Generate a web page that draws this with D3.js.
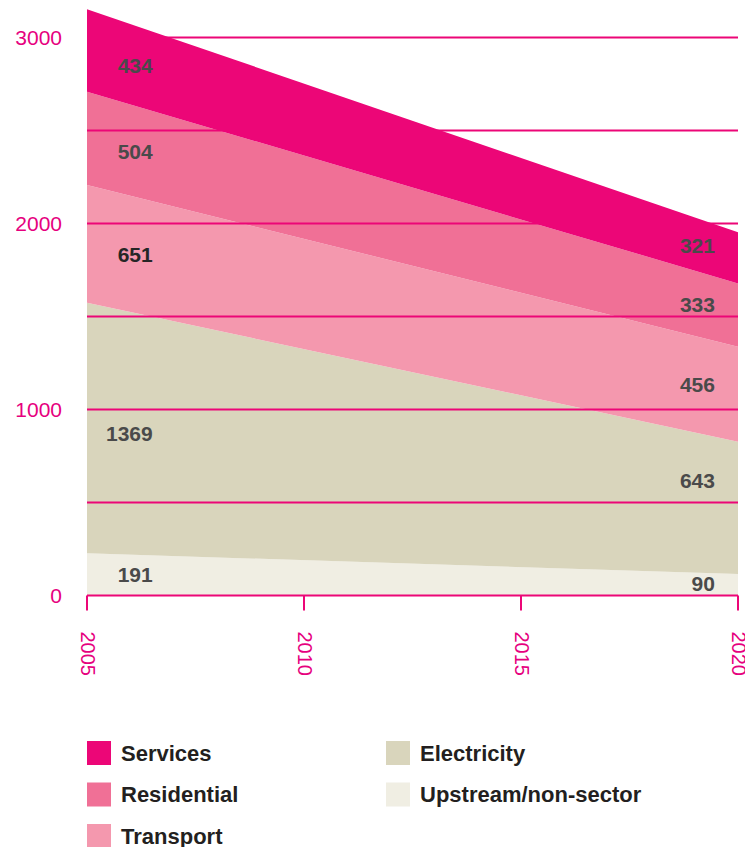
<!DOCTYPE html>
<html>
<head>
<meta charset="utf-8">
<script src="https://cdn.jsdelivr.net/npm/d3@7"></script>
<style>
  body { margin: 0; background: #fff; }
  svg { display: block; font-family: "Liberation Sans", Arial, sans-serif; }
  .tick-label { fill: #e6007e; font-size: 21px; }
  .x-label { font-size: 20px; }
  .val { fill: #4a4a4a; font-size: 21px; font-weight: bold; }
  .val.dark { fill: #262626; }
  .legend text { fill: #231f20; font-size: 22px; font-weight: bold; }
</style>
</head>
<body>
<div id="chart"></div>
<script>
var width = 745, height = 847;

// layers, bottom to top
var keys = ["Upstream/non-sector", "Electricity", "Transport", "Residential", "Services"];
var years = [2005, 2020];
// drawn band thickness
var upstream    = [227, 116],
    electricity = [1347, 711],
    transport   = [633, 511],
    residential = [502, 340],
    services    = [443, 275];
// printed values on the chart
var labels2005 = [191, 1369, 651, 504, 434],
    labels2020 = [90, 643, 456, 333, 321];
var yTicks = [0, 1000, 2000, 3000],
    gridValues = [500, 1000, 1500, 2000, 2500, 3000],
    xTicks = [2005, 2010, 2015, 2020];

var colors = {
  "Services": "#ec0677",
  "Residential": "#f07096",
  "Transport": "#f498ae",
  "Electricity": "#d9d5bc",
  "Upstream/non-sector": "#f0eee3"
};
var pink = "#ec0677";

var series = [upstream, electricity, transport, residential, services];
var table = years.map(function(yr, i) {
  var row = {year: yr};
  keys.forEach(function(k, j) { row[k] = series[j][i]; });
  return row;
});

var x = d3.scaleLinear().domain([2005, 2020]).range([87, 738]);
var y = d3.scaleLinear().domain([0, 3000]).range([595.5, 37.5]);

var stacked = d3.stack().keys(keys)(table);

var area = d3.area()
  .x(function(d) { return x(d.data.year); })
  .y0(function(d) { return y(d[0]); })
  .y1(function(d) { return y(d[1]); });

var svg = d3.select("#chart").append("svg")
  .attr("width", width)
  .attr("height", height);

// all layers but Services sit under the grid lines
svg.append("g").selectAll("path")
  .data(stacked.filter(function(s) { return s.key != "Services"; }))
  .enter().append("path")
  .attr("fill", function(s) { return colors[s.key]; })
  .attr("d", area);

svg.append("g").selectAll("line")
  .data(gridValues)
  .enter().append("line")
  .attr("x1", x(2005)).attr("x2", x(2020))
  .attr("y1", function(d) { return y(d); })
  .attr("y2", function(d) { return y(d); })
  .attr("stroke", pink)
  .attr("stroke-width", 2);

svg.append("g").selectAll("path")
  .data(stacked.filter(function(s) { return s.key == "Services"; }))
  .enter().append("path")
  .attr("fill", function(s) { return colors[s.key]; })
  .attr("d", area);

// x axis baseline + ticks
svg.append("line")
  .attr("x1", x(2005)).attr("x2", x(2020))
  .attr("y1", y(0)).attr("y2", y(0))
  .attr("stroke", pink).attr("stroke-width", 2);

svg.append("g").selectAll("line")
  .data(xTicks)
  .enter().append("line")
  .attr("x1", function(d) { return x(d); })
  .attr("x2", function(d) { return x(d); })
  .attr("y1", y(0)).attr("y2", y(0) + 15)
  .attr("stroke", pink).attr("stroke-width", 2);

svg.append("g").selectAll("text")
  .data(xTicks)
  .enter().append("text")
  .attr("class", "tick-label x-label")
  .attr("transform", function(d) { return "translate(" + x(d) + "," + (y(0) + 36) + ")rotate(90)"; })
  .attr("dy", ".32em")
  .text(function(d) { return d; });

// y tick labels
svg.append("g").selectAll("text")
  .data(yTicks)
  .enter().append("text")
  .attr("class", "tick-label")
  .attr("x", 62)
  .attr("y", function(d) { return y(d); })
  .attr("dy", ".35em")
  .attr("text-anchor", "end")
  .text(function(d) { return d; });

// value labels, centred in the band at the label's position
function bandMid(s, yr) {
  var t = (yr - 2005) / 15;
  var lo = s[0][0] + t * (s[1][0] - s[0][0]),
      hi = s[0][1] + t * (s[1][1] - s[0][1]);
  return y((lo + hi) / 2);
}
function addLabels(vals, yr, xEnd) {
  svg.append("g").selectAll("text")
    .data(stacked)
    .enter().append("text")
    .attr("class", function(s) { return s.key == "Transport" && yr < 2010 ? "val dark" : "val"; })
    .attr("x", xEnd)
    .attr("y", function(s) {
      var p = bandMid(s, yr);
      // keep the number off a grid line
      gridValues.forEach(function(g) { if (Math.abs(y(g) - p) < 10) p -= 22; });
      return p;
    })
    .attr("dy", ".35em")
    .attr("text-anchor", "end")
    .text(function(s, i) { return vals[i]; });
}
addLabels(labels2005, 2006.1, x(2006.1) + 18);
addLabels(labels2020, 2019.1, x(2019.1) + 16);

// legend
var legendItems = ["Services", "Residential", "Transport", "Electricity", "Upstream/non-sector"];
var legend = svg.append("g").attr("class", "legend");
var item = legend.selectAll("g")
  .data(legendItems)
  .enter().append("g")
  .attr("transform", function(d, i) {
    var col = i < 3 ? 0 : 1, row = i < 3 ? i : i - 3;
    return "translate(" + (87 + col * 299) + "," + (741 + row * 41.5) + ")";
  });
item.append("rect")
  .attr("width", 24).attr("height", 24)
  .attr("fill", function(d) { return colors[d]; });
item.append("text")
  .attr("x", 34).attr("y", 12)
  .attr("dy", ".35em")
  .text(function(d) { return d; });
</script>
</body>
</html>
